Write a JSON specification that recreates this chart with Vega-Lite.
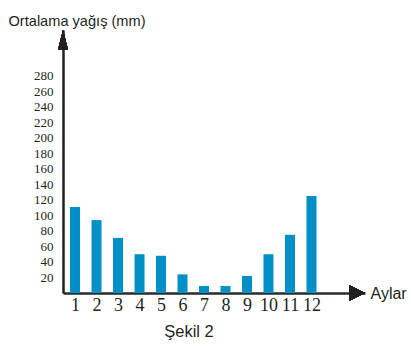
{
  "$schema": "https://vega.github.io/schema/vega-lite/v6.json",
  "width": 302,
  "height": 263,
  "autosize": {"type": "none"},
  "padding": {"left": 63, "top": 30, "right": 46, "bottom": 61},
  "background": "white",
  "config": {"view": {"stroke": null}, "axis": {"labelOverlap": false}},
  "resolve": {"axis": {"x": "independent", "y": "independent"}},
  "title": {
    "text": "Şekil 2",
    "orient": "bottom",
    "anchor": "middle",
    "dx": -25,
    "offset": 10,
    "font": "Liberation Sans",
    "fontSize": 16.5,
    "fontWeight": "normal",
    "color": "#231f20"
  },
  "data": {
    "values": [
      {"ay": 1, "yagis": 111},
      {"ay": 2, "yagis": 94},
      {"ay": 3, "yagis": 71},
      {"ay": 4, "yagis": 50},
      {"ay": 5, "yagis": 48},
      {"ay": 6, "yagis": 24},
      {"ay": 7, "yagis": 9},
      {"ay": 8, "yagis": 9},
      {"ay": 9, "yagis": 22},
      {"ay": 10, "yagis": 50},
      {"ay": 11, "yagis": 75},
      {"ay": 12, "yagis": 125}
    ]
  },
  "layer": [
    {
      "mark": {"type": "bar", "width": 10, "color": "#0090c8"},
      "encoding": {
        "x": {
          "field": "ay",
          "type": "quantitative",
          "scale": {"domain": [0.44, 14.49], "nice": false, "zero": false, "padding": 0},
          "axis": {
            "values": [1, 2, 3, 4, 5, 6, 7, 8, 9, 10, 11, 12],
            "format": "d",
            "ticks": false,
            "grid": false,
            "labelFont": "Liberation Serif",
            "labelFontSize": 18,
            "labelColor": "#231f20",
            "labelPadding": 3,
            "labelFlush": false,
            "labelOverlap": false,
            "domainColor": "#2a2a2a",
            "domainWidth": 2.5,
            "title": "Aylar",
            "titleFont": "Liberation Sans",
            "titleFontSize": 16,
            "titleFontWeight": "normal",
            "titleColor": "#231f20",
            "titleAnchor": "start",
            "titleAlign": "left",
            "titleBaseline": "middle",
            "titleX": 307,
            "titleY": 0
          }
        },
        "y": {
          "field": "yagis",
          "type": "quantitative",
          "scale": {"domain": [0, 339], "nice": false, "padding": 0},
          "axis": {
            "values": [20, 40, 60, 80, 100, 120, 140, 160, 180, 200, 220, 240, 260, 280],
            "ticks": false,
            "grid": false,
            "labelFont": "Liberation Serif",
            "labelFontSize": 13,
            "labelColor": "#231f20",
            "labelPadding": 10,
            "labelOverlap": false,
            "domainColor": "#231f20",
            "domainWidth": 2.5,
            "title": "Ortalama yağış (mm)",
            "titleFont": "Liberation Sans",
            "titleFontSize": 14.6,
            "titleFontWeight": "normal",
            "titleColor": "#231f20",
            "titleAngle": 0,
            "titleAlign": "left",
            "titleBaseline": "middle",
            "titleX": -55,
            "titleY": -9
          }
        }
      }
    },
    {
      "mark": {"type": "point", "filled": true, "opacity": 1, "color": "#231f20", "shape": "M0,0L0.5,2L-0.5,2Z", "size": 400},
      "encoding": {
        "x": {"datum": 0.44, "axis": null},
        "y": {"datum": 339, "axis": null}
      }
    },
    {
      "mark": {"type": "point", "filled": true, "opacity": 1, "color": "#231f20", "shape": "M0,0L-2,-1L-2,1Z", "size": 256},
      "encoding": {
        "x": {"datum": 14.49, "axis": null},
        "y": {"datum": 0, "axis": null}
      }
    }
  ]
}
